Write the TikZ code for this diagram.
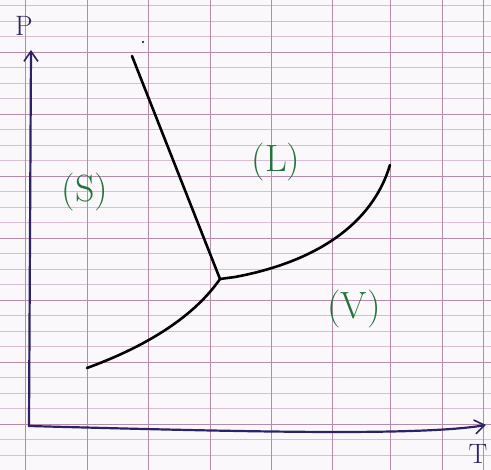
\documentclass[tikz,border=0pt]{standalone}
\usetikzlibrary{arrows.meta, positioning}

\definecolor{paper}{RGB}{250,248,250}
\definecolor{gridline}{RGB}{215,190,210}
\definecolor{gridbold}{RGB}{180,140,170}
\definecolor{ink}{RGB}{45,35,100}
\definecolor{phase}{RGB}{35,115,60}

\begin{document}
\begin{tikzpicture}[
    x=1pt, y=-1pt,
    axis/.style={
        -{Straight Barb[length=10pt, width=14pt, line width=1.6pt]},
        ink,
        line width=2.2pt,
        line cap=round
    },
    curve/.style={
        black,
        line width=2.6pt,
        line cap=round,
        line join=round
    },
    phaselabel/.style={
        phase,
        font=\fontsize{38}{38}\selectfont,
        inner sep=0pt
    },
    axislabel/.style={
        ink,
        font=\fontsize{28}{28}\selectfont,
        inner sep=0pt
    }
]

    \useasboundingbox[fill=paper] (0,0) rectangle (491,470);

    % --- Squared paper ---
    \foreach \k in {-3,...,27} {
        \draw[gridline, line width=0.5pt] (0,52+15.5*\k) -- (491,52+15.5*\k);
    }
    \foreach \k in {0,...,6} {
        \draw[gridbold, line width=0.9pt] (0,52+62*\k) -- (491,52+62*\k);
    }
    \foreach \x in {25,87,148,210,271,332,390,442,483} {
        \draw[gridbold, line width=0.8pt] (\x,0) -- (\x,470);
    }

    % --- Axes ---
    \coordinate (origin) at (29,426);
    \coordinate (ptop) at (31,50);
    \coordinate (tend) at (486,425);
    \draw[axis] (origin) -- (ptop);
    \draw[axis] (origin) .. controls (250,432) and (420,436) .. (tend);

    \node[axislabel] (plabel) at (24,26) {P};
    \node[axislabel] (tlabel) at (478,454) {T};

    % --- Phase boundaries ---
    \coordinate (triple) at (220,279);
    \coordinate (fusion) at (132,56);
    \coordinate (subl) at (87,368);
    \coordinate (crit) at (390,165);

    \draw[curve] (fusion) -- (triple);
    \draw[curve] (subl) .. controls (150,345) and (195,315) .. (triple);
    \draw[curve] (triple) -- (235,277) .. controls (315,262) and (372,225) .. (crit);

    \fill (143,42) circle (1.2pt);

    % --- Phase labels ---
    \node[phaselabel] (solid) at (85,192) {(S)};
    \node[phaselabel] (liquid) at (276,162) {(L)};
    \node[phaselabel] (vapour) at (354,309) {(V)};

\end{tikzpicture}
\end{document}
